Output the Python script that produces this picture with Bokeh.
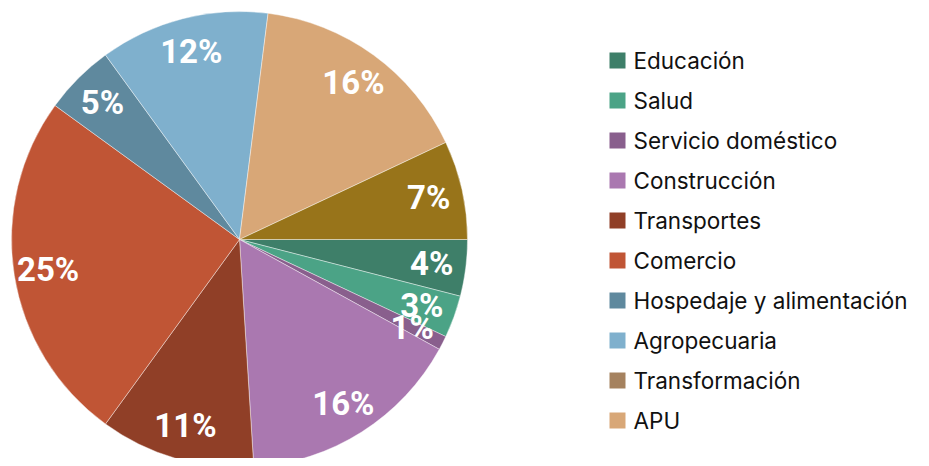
import math
from bokeh.plotting import figure
from bokeh.models import Range1d, ColumnDataSource
from bokeh.core.properties import value
from bokeh.embed import file_html
from bokeh.resources import INLINE

# Data (pie order, clockwise from 3 o'clock)
categories = ["Educación", "Salud", "Servicio doméstico", "Construcción", "Transportes",
              "Comercio", "Hospedaje y alimentación", "Agropecuaria", "APU", "Transformación"]
shares = [4, 3, 1, 16, 11, 25, 5, 12, 16, 7]
slice_colors = ["#3e7f69", "#4ba386", "#895f8d", "#aa78b0", "#903f27",
                "#c05535", "#5f899e", "#7fb0cd", "#d8a777", "#98741a"]

# Legend (as shown)
legend_labels = ["Educación", "Salud", "Servicio doméstico", "Construcción", "Transportes",
                 "Comercio", "Hospedaje y alimentación", "Agropecuaria", "Transformación", "APU"]
legend_colors = ["#3e7f69", "#4ba386", "#895f8d", "#aa78b0", "#903f27",
                 "#c05535", "#5f899e", "#7fb0cd", "#a5825f", "#d8a777"]

W, H = 913, 458
# data coords: x = screen x, y = 466 - screen y
p = figure(width=W, height=H, output_backend="svg", toolbar_location=None,
           x_range=Range1d(0, W), y_range=Range1d(466 - H, 466),
           min_border=0, outline_line_color=None)
p.axis.visible = False
p.grid.visible = False
p.background_fill_color = "white"
p.border_fill_color = "white"

cx, cy, R = 239, 466 - 239, 228
total = sum(shares)
starts, ends, lx, ly, txt = [], [], [], [], []
cum = 0.0
for v in shares:
    a0 = cum / total * 2 * math.pi
    cum += v
    a1 = cum / total * 2 * math.pi
    starts.append(-a1)
    ends.append(-a0)
    mid = (a0 + a1) / 2
    lx.append(cx + 0.85 * R * math.cos(mid))
    ly.append(cy - 0.85 * R * math.sin(mid))
    txt.append(f"{v}%")

src = ColumnDataSource(dict(start=starts, end=ends, color=slice_colors,
                            lx=lx, ly=ly, txt=txt))
p.wedge(x=cx, y=cy, radius=R, radius_units="screen", start_angle="start", end_angle="end",
        fill_color="color", line_color="white", line_width=0.6, line_alpha=0.7, source=src)
p.text(x="lx", y="ly", text="txt", source=src, text_color="white",
       text_font=value("Roboto"), text_font_style="bold", text_font_size="33px",
       text_align="center", text_baseline="middle")

# Legend
ys = [466 - (60 + 40 * i) for i in range(len(legend_labels))]
lsrc = ColumnDataSource(dict(x=[617] * len(ys), y=ys, color=legend_colors,
                             tx=[633] * len(ys), ty=ys, label=legend_labels))
p.rect(x="x", y="y", width=16, height=16, width_units="screen", height_units="screen",
       fill_color="color", line_color=None, source=lsrc)
p.text(x="tx", y="ty", text="label", source=lsrc, text_color="#111111",
       text_font=value("Inter"), text_font_size="22.5px",
       text_align="left", text_baseline="middle")

open("out.html", "w").write(file_html(p, INLINE))
